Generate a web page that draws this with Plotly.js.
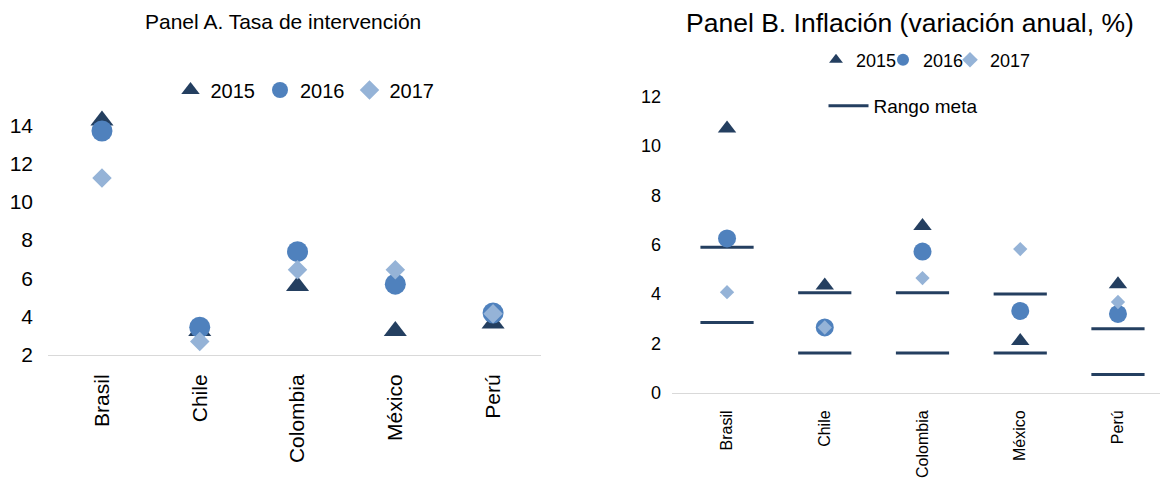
<!DOCTYPE html>
<html>
<head>
<meta charset="utf-8">
<script src="https://cdn.plot.ly/plotly-3.0.1.min.js"></script>
<style>html,body{margin:0;padding:0;background:#fff;}#chart{width:1163px;height:485px;}</style>
</head>
<body>
<div id="chart"></div>
<script>
const countries = ["Brasil", "Chile", "Colombia", "México", "Perú"];
const years = ["2015", "2016", "2017"];

// Panel A: Tasa de intervención (%)
const rateA2015 = [14.25, 3.25, 5.6, 3.25, 3.65];
const rateA2016 = [13.7, 3.45, 7.4, 5.7, 4.2];
const rateA2017 = [11.25, 2.7, 6.45, 6.45, 4.15];

// Panel B: Inflación (variación anual, %)
const infl2015 = [10.7, 4.35, 6.75, 2.1, 4.4];
const infl2016 = [6.25, 2.65, 5.72, 3.32, 3.2];
const infl2017 = [4.08, 2.65, 4.65, 5.82, 3.68];
const rangoSup = [5.9, 4.05, 4.05, 4.0, 2.6];
const rangoInf = [2.85, 1.62, 1.62, 1.62, 0.75];

const cNavy = "#243F60";
const cMid = "#4F81BD";
const cLight = "#95B3D7";
const FONT = "Arial, 'Liberation Sans', sans-serif";

const traces = [
  {type:"scatter", mode:"markers", name:years[0], x:countries, y:rateA2015, xaxis:"x", yaxis:"y", legend:"legend",
   marker:{symbol:"triangle-up", size:20, color:cNavy}},
  {type:"scatter", mode:"markers", name:years[1], x:countries, y:rateA2016, xaxis:"x", yaxis:"y", legend:"legend",
   marker:{symbol:"circle", size:21, color:cMid}},
  {type:"scatter", mode:"markers", name:years[2], x:countries, y:rateA2017, xaxis:"x", yaxis:"y", legend:"legend",
   marker:{symbol:"diamond", size:15, color:cLight}},

  {type:"scatter", mode:"markers", name:"Rango meta", showlegend:false,
   x:countries.concat(countries), y:rangoSup.concat(rangoInf), xaxis:"x2", yaxis:"y2",
   marker:{symbol:"line-ew", size:38, color:cNavy, line:{color:cNavy, width:3}}},
  {type:"scatter", mode:"markers", name:years[0], x:countries, y:infl2015, xaxis:"x2", yaxis:"y2", legend:"legend2",
   marker:{symbol:"triangle-up", size:16, color:cNavy}},
  {type:"scatter", mode:"markers", name:years[1], x:countries, y:infl2016, xaxis:"x2", yaxis:"y2", legend:"legend2",
   marker:{symbol:"circle", size:18, color:cMid}},
  {type:"scatter", mode:"markers", name:years[2], x:countries, y:infl2017, xaxis:"x2", yaxis:"y2", legend:"legend2",
   marker:{symbol:"diamond", size:11, color:cLight}},
  {type:"scatter", mode:"markers", name:"\u00a0", x:[null], y:[null], xaxis:"x2", yaxis:"y2", legend:"legend2",
   marker:{color:"rgba(0,0,0,0)", size:1}, hoverinfo:"skip"},
  {type:"scatter", mode:"lines", name:"Rango meta", x:[null], y:[null], xaxis:"x2", yaxis:"y2", legend:"legend3",
   line:{color:cNavy, width:3}}
];

const W = 1163, H = 485;
const layout = {
  width: W, height: H,
  margin:{l:0, r:0, t:0, b:0},
  paper_bgcolor:"#fff", plot_bgcolor:"rgba(0,0,0,0)",
  font:{family:FONT, color:"#000"},
  showlegend:true,
  xaxis:{domain:[48/W, 541/W], range:[-0.552, 4.49], type:"category", anchor:"y",
    showgrid:false, zeroline:false, showline:true, linecolor:"#d9d9d9", linewidth:1,
    ticks:"", tickangle:-90, tickfont:{size:21, family:FONT}, ticklabelstandoff:10, fixedrange:true},
  yaxis:{domain:[(H-355)/H, (H-87)/H], range:[2, 16], tickvals:[2,4,6,8,10,12,14], anchor:"x",
    showgrid:false, zeroline:false, showline:false, ticks:"",
    tickfont:{size:21, family:FONT}, ticklabelstandoff:14, fixedrange:true},
  xaxis2:{domain:[672/W, 1160/W], range:[-0.563, 4.43], type:"category", anchor:"y2",
    showgrid:false, zeroline:false, showline:true, linecolor:"#d9d9d9", linewidth:1,
    ticks:"", tickangle:-90, tickfont:{size:16, family:FONT}, ticklabelstandoff:10, fixedrange:true},
  yaxis2:{domain:[(H-393)/H, (H-71.6)/H], range:[0, 13], tickvals:[0,2,4,6,8,10,12], anchor:"x2",
    showgrid:false, zeroline:false, showline:false, ticks:"",
    tickfont:{size:18, family:FONT}, ticklabelstandoff:10, fixedrange:true},
  legend:{orientation:"h", x:305/W, xanchor:"center", y:(H-90)/H, yanchor:"middle",
    font:{size:20, family:FONT}, bgcolor:"rgba(0,0,0,0)", itemwidth:30},
  legend2:{orientation:"h", x:816/W, xanchor:"left", y:(H-60)/H, yanchor:"middle",
    font:{size:18, family:FONT}, bgcolor:"rgba(0,0,0,0)", itemwidth:30, itemsizing:"constant",
    entrywidth:22, entrywidthmode:"pixels"},
  legend3:{orientation:"h", x:903/W, xanchor:"center", y:(H-106)/H, yanchor:"middle",
    font:{size:19, family:FONT}, bgcolor:"rgba(0,0,0,0)", itemwidth:40},
  annotations:[
    {text:"Panel A. Tasa de intervención", xref:"paper", yref:"paper", x:283/W, y:(H-22)/H,
     xanchor:"center", yanchor:"middle", showarrow:false, font:{size:21, family:FONT, color:"#000"}},
    {text:"Panel B. Inflación (variación anual, %)", xref:"paper", yref:"paper", x:910/W, y:(H-23)/H,
     xanchor:"center", yanchor:"middle", showarrow:false, font:{size:26.5, family:FONT, color:"#000"}}
  ]
};

Plotly.newPlot("chart", traces, layout, {displayModeBar:false, staticPlot:true});
</script>
</body>
</html>
